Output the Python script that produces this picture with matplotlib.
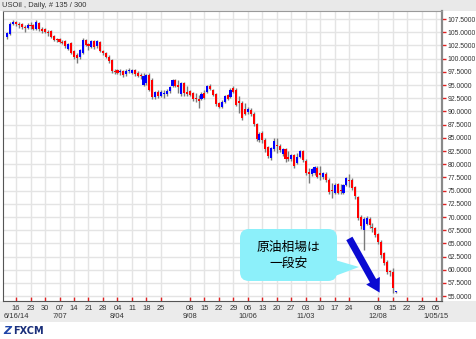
import numpy as np
import matplotlib
matplotlib.use("Agg")
import matplotlib.pyplot as plt
from matplotlib.patches import Rectangle, FancyBboxPatch, Polygon

# daily OHLC, USOil (135 candles, 6/11/14 .. 12/16/14)
opens = [104.1, 104.6, 106.6, 107.0, 106.5, 106.6, 106.0, 105.8, 106.4, 106.3,
         105.7, 106.8, 105.6, 105.6, 105.0, 105.2, 104.3, 103.6, 103.8, 103.2,
         103.3, 101.8, 102.9, 101.4, 100.6, 100.3, 101.0, 103.5, 102.7, 102.2,
         103.3, 102.3, 103.2, 101.4, 101.1, 100.4, 99.7, 97.7, 97.9, 97.4,
         97.6, 97.0, 97.6, 97.3, 97.8, 97.3, 96.9, 95.0, 95.3, 96.9,
         95.9, 92.7, 93.7, 93.0, 93.3, 93.3, 93.8, 94.9, 95.9, 95.0,
         93.3, 95.4, 93.6, 93.9, 93.4, 92.5, 92.4, 92.3, 93.5, 93.6,
         94.9, 94.1, 93.3, 91.6, 90.9, 91.8, 93.1, 92.8, 94.5, 94.0,
         92.0, 91.6, 90.5, 89.9, 90.3, 89.5, 87.6, 84.6, 85.9, 84.6,
         83.2, 81.2, 82.9, 83.6, 83.5, 81.9, 82.8, 81.4, 80.9, 81.7,
         80.3, 81.4, 82.5, 80.6, 78.6, 78.1, 78.4, 79.3, 78.3, 77.5,
         78.2, 77.0, 75.2, 74.6, 76.2, 75.2, 74.5, 76.0, 77.1, 77.0,
         75.6, 73.7, 70.0, 67.5, 68.7, 69.7, 68.1, 67.9, 66.8, 65.3,
         63.1, 61.4, 59.8, 59.6, 55.8]
highs = [105.0, 106.9, 107.3, 107.2, 106.9, 106.8, 106.4, 106.7, 106.9, 106.5,
         107.3, 107.0, 105.9, 105.8, 105.4, 105.4, 104.5, 103.9, 104.0, 103.5,
         103.5, 103.0, 103.1, 101.6, 101.1, 101.9, 103.9, 103.8, 103.0, 103.5,
         103.6, 103.6, 103.4, 101.7, 101.3, 100.7, 99.9, 98.1, 98.0, 98.0,
         97.8, 98.0, 98.3, 98.1, 98.0, 97.6, 97.3, 97.2, 97.1, 97.2,
         96.3, 93.9, 94.0, 94.1, 94.1, 94.2, 94.9, 96.1, 96.1, 96.0,
         95.6, 95.6, 94.8, 94.0, 93.7, 93.5, 93.1, 93.7, 94.0, 95.0,
         95.1, 94.3, 93.5, 91.8, 92.1, 93.1, 93.3, 94.4, 94.9, 94.4,
         92.9, 92.0, 91.6, 90.8, 90.6, 89.8, 87.9, 86.1, 86.2, 84.9,
         83.5, 83.3, 84.9, 84.9, 83.8, 83.0, 83.0, 82.5, 82.0, 82.0,
         82.2, 82.7, 82.7, 80.9, 79.2, 79.3, 79.7, 79.6, 79.6, 78.6,
         78.5, 77.4, 76.5, 76.5, 76.5, 76.3, 76.2, 77.6, 78.2, 77.3,
         75.8, 74.0, 70.3, 70.0, 70.1, 70.0, 68.8, 68.1, 67.0, 65.6,
         63.4, 61.8, 60.0, 60.3, 56.0]
lows = [103.8, 104.4, 106.3, 106.2, 105.8, 105.6, 105.1, 105.6, 105.7, 105.4,
        105.5, 105.3, 104.9, 104.8, 104.3, 103.9, 103.4, 103.2, 103.0, 102.7,
        102.0, 101.6, 100.9, 100.0, 99.1, 100.0, 100.8, 102.4, 101.6, 102.0,
        101.9, 102.1, 101.2, 100.6, 100.1, 99.2, 97.3, 97.0, 97.0, 96.9,
        96.6, 96.8, 97.2, 97.0, 96.8, 96.6, 96.1, 94.8, 95.0, 93.8,
        92.3, 92.3, 92.6, 92.7, 92.6, 92.9, 93.4, 94.6, 94.7, 93.5,
        93.0, 93.0, 93.0, 92.9, 92.0, 91.8, 90.6, 92.2, 92.4, 93.4,
        94.0, 93.0, 91.1, 90.6, 90.7, 91.6, 92.1, 92.6, 93.4, 91.0,
        89.7, 88.4, 89.3, 89.6, 89.2, 87.3, 84.4, 84.3, 84.1, 82.4,
        81.2, 80.8, 82.5, 82.2, 82.3, 81.6, 80.5, 80.7, 80.6, 79.2,
        80.0, 81.1, 80.4, 78.0, 76.4, 77.8, 78.0, 77.3, 77.0, 77.2,
        76.7, 74.3, 73.6, 74.3, 74.3, 74.3, 74.3, 75.8, 75.6, 75.1,
        73.4, 69.4, 67.8, 63.7, 68.4, 68.0, 67.1, 66.3, 64.9, 62.2,
        60.9, 59.2, 58.9, 55.7, 55.6]
closes = [104.8, 106.6, 107.0, 106.5, 106.3, 106.0, 105.8, 106.4, 106.2, 105.6,
          106.9, 105.6, 105.3, 105.0, 104.8, 104.1, 103.6, 103.5, 103.2, 103.0,
          102.3, 102.8, 101.1, 100.3, 100.2, 101.6, 103.6, 102.6, 102.4, 103.3,
          102.2, 103.3, 101.4, 101.1, 100.4, 99.5, 97.6, 97.5, 97.3, 97.6,
          96.9, 97.6, 97.8, 97.9, 97.1, 96.8, 96.7, 96.7, 96.9, 94.1,
          92.7, 93.6, 93.0, 93.7, 93.5, 93.9, 94.7, 95.9, 94.9, 94.7,
          95.4, 93.4, 93.3, 93.2, 92.3, 92.3, 92.0, 93.3, 92.6, 94.8,
          94.2, 93.2, 91.4, 90.8, 91.8, 93.0, 92.4, 94.1, 93.6, 91.3,
          91.6, 88.7, 89.6, 90.4, 89.5, 87.6, 84.8, 85.8, 84.6, 82.9,
          81.6, 83.0, 84.4, 83.4, 82.6, 82.8, 81.0, 80.9, 81.7, 79.7,
          81.4, 82.5, 80.8, 78.4, 78.2, 79.0, 79.5, 77.6, 78.0, 78.3,
          77.0, 74.7, 74.9, 76.1, 74.6, 75.0, 76.0, 77.3, 76.8, 75.5,
          73.9, 69.9, 68.3, 69.6, 69.8, 68.4, 67.9, 66.6, 65.3, 62.8,
          61.3, 59.6, 59.5, 56.6, 55.9]

# weekly axis ticks (candle index of each Monday)
week_pos = [3, 8, 13, 18, 23, 28, 33, 38, 43, 48, 53, 63, 68, 73, 78,
            83, 88, 93, 98, 103, 108, 113, 118, 128, 133, 138, 143, 148]
week_lbl = ["16", "23", "30", "07", "14", "21", "28", "04", "11", "18", "25",
            "08", "15", "22", "29", "06", "13", "20", "27", "03", "10", "17",
            "24", "08", "15", "22", "29", "05"]
month_pos = [3, 18, 38, 63, 83, 103, 128, 148]
month_lbl = ["6/16/14", "7/07", "8/04", "9/08", "10/06", "11/03", "12/08", "1/05/15"]
price_ticks = np.arange(55.0, 108.0, 2.5)

W, H = 476, 339
fig = plt.figure(figsize=(W / 100, H / 100), dpi=100)
fig.patch.set_facecolor("white")

def px(x0, y0, x1, y1):
    # figure rect from pixel box
    return (x0 / W, 1 - y1 / H, (x1 - x0) / W, (y1 - y0) / H)

for box, col in [((0, 0, W, 11), "#e9e9e9"), ((0, 301, W, 322), "#ebebeb")]:
    l, b, w, h = px(*box)
    fig.patches.append(Rectangle((l, b), w, h, transform=fig.transFigure,
                                 facecolor=col, edgecolor="none", zorder=-2))

ax = fig.add_axes(px(3, 11, 442, 301))
ax.set_xlim(-1.5, 150)
ax.set_ylim(54.09, 109.02)

idx = np.arange(len(closes))
o = np.array(opens)
c = np.array(closes)
colors = np.where(c >= o, "#0000ff", "#ff0000")
ax.vlines(idx, lows, highs, color="#7a7a7a", lw=1, zorder=3)
body = np.maximum(np.abs(c - o), 0.18)
ax.bar(idx, body, bottom=np.minimum(o, c), width=0.72, color=colors,
       linewidth=0, zorder=4)

# grid + ticks
ax.set_yticks(price_ticks)
ax.set_yticklabels(["%.4f" % v for v in price_ticks])
ax.yaxis.tick_right()
ax.set_xticks(week_pos)
ax.set_xticklabels(week_lbl)
ax.grid(True, color="#e4e4e4", lw=1, zorder=0)
ax.set_axisbelow(True)
ax.tick_params(axis="y", direction="out", length=3, width=1, color="#e02020",
               labelsize=4.9, labelcolor="#333333", pad=1)
ax.tick_params(axis="x", direction="in", length=3, width=1, color="#e02020",
               labelsize=5.4, labelcolor="#333333", pad=3)
for lab in ax.get_xticklabels() + ax.get_yticklabels():
    lab.set_family("Liberation Sans")
for p, t in zip(month_pos, month_lbl):
    ax.text(p, -0.055, t, transform=ax.get_xaxis_transform(), ha="center",
            va="center", fontsize=5.4, color="#333333", family="Liberation Sans")
ax.spines["left"].set_color("#555555")
ax.spines["bottom"].set_color("#555555")
ax.spines["right"].set_color("#8a8a8a")
ax.spines["right"].set_linewidth(1.6)
ax.spines["top"].set_color("#9a9a9a")

# overlay in pixel units for callout, arrow and logo
ov = fig.add_axes([0, 0, 1, 1])
ov.set_xlim(0, W)
ov.set_ylim(H, 0)
ov.axis("off")
ov.patch.set_alpha(0)

cyan = "#8cf0fa"
ov.add_patch(FancyBboxPatch((240, 229), 97, 52,
                            boxstyle="round,pad=0,rounding_size=9",
                            facecolor=cyan, edgecolor="none"))
ov.add_patch(Polygon([(335, 260), (359, 267), (335, 276)], closed=True,
                     facecolor=cyan, edgecolor="none"))
ov.text(288.5, 255.5, "原油相場は\n一段安", ha="center", va="center",
        fontsize=9.2, linespacing=1.25, color="black",
        family=["Noto Sans CJK JP", "DejaVu Sans"])
ov.annotate("", xy=(381, 295), xytext=(348, 236),
            arrowprops=dict(arrowstyle="simple,head_length=0.65,head_width=0.75,tail_width=0.34",
                            mutation_scale=15, color="#0a0ad2", lw=0))

ov.text(2, 5.5, "USOil , Daily, # 135 / 300", fontsize=5.4,
        color="#333333", va="center", family="Liberation Sans")

# logo
ov.text(3, 331, "Z", fontsize=8, fontweight="bold", style="italic",
        color="#1f45a8", va="center")
ov.text(13, 331, "FXCM", fontsize=7, fontweight="bold",
        color="#1a2f7a", va="center")

fig.savefig("out.png", dpi=100)
